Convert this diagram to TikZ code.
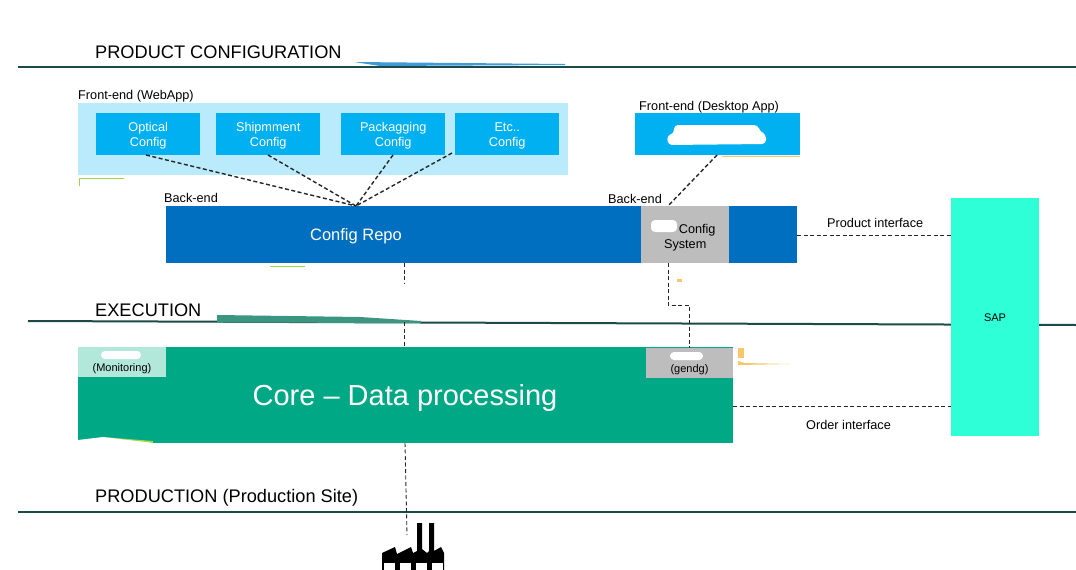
\documentclass[tikz,border=0pt]{standalone}
\usepackage{fontspec}
\setmainfont{Liberation Sans}
\definecolor{panelblue}{HTML}{B9EBFD}
\definecolor{boxblue}{HTML}{00B0F0}
\definecolor{repoblue}{HTML}{006FC0}
\definecolor{boxgrey}{HTML}{BDBDBD}
\definecolor{coregreen}{HTML}{00A885}
\definecolor{monigreen}{HTML}{B2E8D9}
\definecolor{sapgreen}{HTML}{2EFFD6}
\definecolor{ruleline}{HTML}{1C4A48}
\definecolor{smudge}{HTML}{FBC56B}
\definecolor{streakblue}{HTML}{3E9BD6}
\definecolor{streakgreen}{HTML}{3A9680}
\definecolor{limeedge}{HTML}{9BD84A}
\newcommand{\lowr}{\rule{0pt}{13pt}}
\tikzset{
  blk/.style={shape=rectangle,inner sep=0pt,align=center,anchor=north west},
  cfgbox/.style={blk,fill=boxblue,text=white,minimum width=104,minimum height=42,font=\fontsize{12.7}{15}\selectfont},
  lbl/.style={inner sep=0pt,anchor=base west,font=\fontsize{12.7}{14}\selectfont},
  title/.style={inner sep=0pt,anchor=base west,font=\fontsize{18.2}{20}\selectfont},
  rule/.style={draw=ruleline,line width=2},
  link/.style={draw=black!85,dashed,line width=0.9,dash pattern=on 4 off 2.5},
  linkb/.style={link,line width=1.4},
  blob/.style={fill=white,rounded corners=4}
}
\begin{document}
\begin{tikzpicture}[x=1pt,y=-1pt]
\useasboundingbox (0,0) rectangle (1076,570);
% section titles and rules
\node[title] (T1) at (95,58) {PRODUCT CONFIGURATION};
\node[title] (T2) at (95,316) {EXECUTION};
\node[title] (T3) at (95,502) {PRODUCTION (Production Site)};
\draw[rule] (18,67) -- (1076,67);
\draw[rule] (28,321) -- (1076,325);
\draw[rule] (18,511.5) -- (1076,511.5);
\fill[streakblue] (354,62) -- (565,64) -- (565,65) -- (380,66) -- cycle;
\fill[streakgreen] (217,315) -- (360,317) -- (421,321) -- (421,323) -- (217,322.5) -- cycle;
% front-end
\node[lbl] (L1) at (78,99.5) {Front-end (WebApp)};
\node[blk,fill=panelblue,minimum width=490,minimum height=72] (W) at (78,103) {};
\node[cfgbox] (A) at (96,113) {\lowr Optical\\Config};
\node[cfgbox] (B) at (216,113) {\lowr Shipmment\\Config};
\node[cfgbox] (C) at (341,113) {\lowr Packagging\\Config};
\node[cfgbox] (D) at (455,113) {\lowr Etc..\\Config};
\node[lbl] (L2) at (639,110) {Front-end (Desktop App)};
\node[blk,fill=boxblue,minimum width=165,minimum height=42] (E) at (635,113) {};
\fill[blob] (674,125) -- (758,125) -- (760,132) -- (766,134) -- (766,144) -- (668,145) -- (667,135) -- (674,134) -- cycle;
\fill[smudge] (722,155.5) rectangle (800,156.5);
% back-end
\node[lbl] (L3) at (164,202) {Back-end};
\node[lbl] (L4) at (608,203) {Back-end};
\node[blk,fill=repoblue,minimum width=631,minimum height=57] (R) at (166,206) {};
\node[text=white,inner sep=0pt,font=\fontsize{16.5}{19}\selectfont] (R1) at (356,236) {Config Repo};
\node[blk,fill=boxgrey,minimum width=88,minimum height=57,font=\fontsize{12.7}{15}\selectfont] (G) at (641,206) {\rule{0pt}{16pt}\hspace*{24pt}Config\\System};
\fill[blob] (651,220) rectangle (677,232);
\fill[limeedge] (79,178) rectangle (124,179);
\fill[limeedge] (79,178) rectangle (80,186);
\fill[limeedge] (270,266) rectangle (305,267);
% execution
\node[blk,fill=coregreen,minimum width=655,minimum height=96] (X) at (78,347) {};
\node[text=white,inner sep=0pt,font=\fontsize{29}{34}\selectfont] (X1) at (405,398) {Core -- Data processing};
\node[blk,fill=monigreen,minimum width=88,minimum height=30] (M) at (78,347) {};
\node[inner sep=0pt,font=\fontsize{11}{13}\selectfont] (M1) at (122,369) {(Monitoring)};
\fill[blob] (101,351) rectangle (141,359);
\node[blk,fill=boxgrey,minimum width=87,minimum height=30] (N) at (646,348) {};
\node[inner sep=0pt,font=\fontsize{11}{13}\selectfont] (N1) at (689.5,370) {(gendg)};
\fill[blob] (670,352) rectangle (703,360);
\fill[limeedge] (103,437) -- (153,441) -- (153,443.5) -- cycle;
\fill[white] (78,443.5) -- (78,440) -- (103,437) -- (150,442.5) -- (153,443.5) -- cycle;
\fill[smudge] (738,348) rectangle (744,358);
\fill[smudge] (738,361) -- (745,363) -- (790,364) -- (738,365) -- cycle;
\fill[smudge] (677,279) rectangle (682,282);
% sap
\node[blk,fill=sapgreen,minimum width=88,minimum height=238] (S) at (951,198) {};
\node[inner sep=0pt,font=\fontsize{11}{13}\selectfont] (S1) at (995,318) {SAP};
\node[lbl] (L5) at (827,227) {Product interface};
\node[lbl] (L6) at (806,429) {Order interface};
% connector points
\coordinate (hub) at (356,206);
\coordinate (a1) at (146,155);
\coordinate (b1) at (268,155);
\coordinate (c1) at (393,155);
\coordinate (d1) at (452,153);
\coordinate (e1) at (717,155);
\coordinate (g1) at (668,206);
\coordinate (g2) at (668,263);
\coordinate (g3) at (668,305);
\coordinate (n2) at (689,305);
\coordinate (n3) at (689,348);
\coordinate (r1) at (404,263);
\coordinate (r2) at (404,283);
\coordinate (x1) at (404,322);
\coordinate (x2) at (404,347);
\coordinate (x3) at (405,443);
\coordinate (f1) at (407,535);
\coordinate (r3) at (797,235);
\coordinate (s1) at (951,235);
\coordinate (x4) at (733,406);
\coordinate (s2) at (951,406);
\path [linkb] (a1) edge (hub);
\path [linkb] (b1) edge (hub);
\path [linkb] (c1) edge (hub);
\path [linkb] (d1) edge (hub);
\path [linkb] (e1) edge (g1);
\path [link] (g2) -- (g3) -- (n2) -- (n3);
\path [link] (r1) edge (r2);
\path [link] (x1) edge (x2);
\path [link] (x3) edge (f1);
\path [link] (r3) edge (s1);
\path [link] (x4) edge (s2);
% factory
\fill[black] (382,570) -- (382,553) -- (395,547) -- (397,554) -- (411,547) -- (413,553) -- (417,551) -- (417,523) -- (422,523) -- (422,549) -- (427,553) -- (429,551) -- (429,523) -- (434,523) -- (434,551) -- (441,547) -- (444,553) -- (444,570) -- cycle;
\foreach \wx in {384,400,416,432}
  \fill[white] (\wx,563) rectangle (\wx+11,569.5);
\end{tikzpicture}
\end{document}
